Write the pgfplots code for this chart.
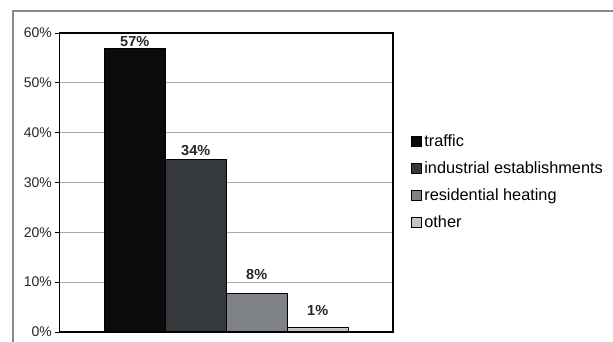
\documentclass[border=0pt]{standalone}
\usepackage{pgfplots}
\pgfplotsset{compat=1.18}
\usepackage{fontspec}
\setmainfont{Liberation Sans}
\definecolor{cTraffic}{HTML}{0B0B0C}
\definecolor{cIndustrial}{HTML}{35383C}
\definecolor{cResidential}{HTML}{7F8287}
\definecolor{cOther}{HTML}{C2C4C7}
\definecolor{frameGray}{HTML}{8A8A8A}
\definecolor{gridGray}{HTML}{A8A8A8}
\begin{document}
\begin{tikzpicture}[x=1pt,y=1pt]
\path[use as bounding box] (0,0) rectangle (613,342);
\draw[frameGray, line width=1.5pt] (12.9,-20) -- (12.9,331) -- (640,331);
\begin{axis}[
  at={(59.4pt,10pt)}, anchor=south west,
  scale only axis,
  width=333.6pt, height=299pt,
  xmin=-1, xmax=1,
  ymin=0, ymax=60,
  ytick={0,10,20,30,40,50,60},
  xtick=\empty,
  ytick pos=left,
  yticklabel={\pgfmathprintnumber{\tick}\%},
  /pgf/number format/assume math mode=true,
  ticklabel style={font=\fontsize{14}{16}\selectfont, text=black!85},
  tick align=outside,
  major tick length=4pt,
  ytick style={black, line width=0.8pt},
  ymajorgrids,
  grid style={gridGray, line width=1pt},
  axis line style={black, line width=1.5pt},
  ybar=0pt,
  bar width=61pt,
  point meta=explicit symbolic,
  nodes near coords,
  nodes near coords style={font=\bfseries\fontsize{14.5}{16}\selectfont, text=black!85, anchor=south, inner sep=1.5pt},
  legend cell align=left,
  legend image code/.code={\draw[#1, draw=black, line width=1pt] (0pt,-4.5pt) rectangle (10pt,5.5pt);},
  legend style={draw=none, fill=none, at={(1.055,0.5)}, anchor=west,
    inner sep=0pt, outer sep=0pt,
    font=\fontsize{16.3}{19}\selectfont,
    nodes={inner xsep=2pt, inner ysep=0pt, text height=12.5pt, text depth=3.5pt},
    row sep=10.8pt},
  clip=false,
]
\addplot[fill=cTraffic, draw=black, line width=1pt] coordinates {(0,56.8) [57\%]};
\addlegendentry{traffic}
\addplot[fill=cIndustrial, draw=black, line width=1pt,
  nodes near coords style={yshift=2pt}] coordinates {(0,34.6) [34\%]};
\addlegendentry{industrial establishments}
\addplot[fill=cResidential, draw=black, line width=1pt,
  nodes near coords style={yshift=11pt}] coordinates {(0,7.8) [8\%]};
\addlegendentry{residential heating}
\addplot[fill=cOther, draw=black, line width=1pt,
  nodes near coords style={yshift=10pt}] coordinates {(0,0.9) [1\%]};
\addlegendentry{other}
\end{axis}
\end{tikzpicture}
\end{document}
